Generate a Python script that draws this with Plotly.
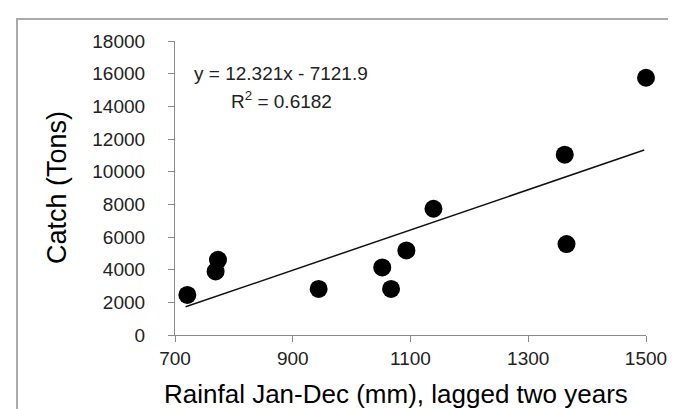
import plotly.graph_objects as go

# Data
rainfall = [721, 769, 773, 944, 1052, 1067, 1093, 1139, 1362, 1365, 1500]
catch = [2450, 3890, 4600, 2820, 4140, 2820, 5180, 7730, 11040, 5570, 15750]
slope, intercept = 12.321, -7121.9
r2 = 0.6182
x_ticks = [700, 900, 1100, 1300, 1500]
y_ticks = list(range(0, 18001, 2000))
y_tick_text = [str(v) for v in y_ticks]
x_tick_text = [str(v) for v in x_ticks]

W, H = 676, 409
L, R, T, B = 167, 38, 33, 82
PW, PH = W - L - R, H - T - B

def px(xp):
    return (xp - L) / PW

def py(yp):
    return (H - B - yp) / PH

trend_x = [min(rainfall) - 3, max(rainfall) - 3]
trend_y = [slope * v + intercept for v in trend_x]

fig = go.Figure()
fig.add_trace(go.Scatter(x=trend_x, y=trend_y, mode="lines",
                         line=dict(color="#111111", width=1.5),
                         hoverinfo="skip", showlegend=False))
fig.add_trace(go.Scatter(x=rainfall, y=catch, mode="markers",
                         marker=dict(color="#000000", size=18, line=dict(width=0)),
                         cliponaxis=False, showlegend=False))

tickfont = dict(family="Liberation Sans, Arial, sans-serif", size=19, color="#222222")
fig.update_xaxes(range=[700, 1500], tickvals=x_ticks, ticktext=x_tick_text,
                 showgrid=False, zeroline=False,
                 showline=True, linecolor="#8a8a8a", linewidth=1.2,
                 ticks="outside", ticklen=6, tickcolor="#8a8a8a", tickwidth=1,
                 tickfont=tickfont, ticklabelstandoff=0)
fig.update_yaxes(range=[0, 18000], tickvals=y_ticks, ticktext=y_tick_text,
                 showgrid=False, zeroline=False,
                 showline=True, linecolor="#8a8a8a", linewidth=1.2,
                 ticks="outside", ticklen=6, tickcolor="#8a8a8a", tickwidth=1,
                 tickfont=tickfont, ticklabelstandoff=19)

titlefont = dict(family="Liberation Sans, Arial, sans-serif", color="#000000")
eqfont = dict(family="Liberation Sans, Arial, sans-serif", size=19, color="#222222")
annotations = [
    dict(text="Rainfal Jan-Dec (mm), lagged two years", xref="paper", yref="paper",
         x=px(388), y=py(386), xanchor="center", yanchor="middle", showarrow=False,
         font=dict(size=26, **titlefont)),
    dict(text="Catch (Tons)", xref="paper", yref="paper", textangle=-90,
         x=px(49), y=py(180), xanchor="center", yanchor="middle", showarrow=False,
         font=dict(size=27, **titlefont)),
    dict(text=f"y = {slope}x - {abs(intercept)}", xref="paper", yref="paper",
         x=px(273), y=py(65), xanchor="center", yanchor="middle", showarrow=False,
         font=eqfont),
    dict(text=f"R<sup>2</sup> = {r2}", xref="paper", yref="paper",
         x=px(273), y=py(92), xanchor="center", yanchor="middle", showarrow=False,
         font=eqfont),
]

shapes = [
    dict(type="line", xref="paper", yref="paper", x0=px(8), x1=px(W + 2),
         y0=py(11), y1=py(11), line=dict(color="#aaaaaa", width=2)),
    dict(type="line", xref="paper", yref="paper", x0=px(9), x1=px(9),
         y0=py(10), y1=py(H + 2), line=dict(color="#aaaaaa", width=2)),
]

fig.update_layout(width=W, height=H, margin=dict(l=L, r=R, t=T, b=B),
                  paper_bgcolor="white", plot_bgcolor="white",
                  annotations=annotations, shapes=shapes, showlegend=False)

fig.write_html("out.html")
